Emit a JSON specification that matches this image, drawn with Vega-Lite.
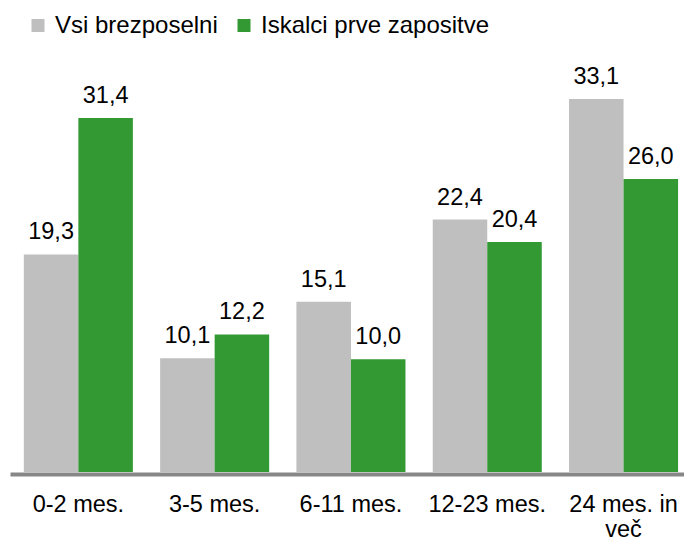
{
  "$schema": "https://vega.github.io/schema/vega-lite/v6.json",
  "width": 674,
  "height": 394.5,
  "autosize": {"type": "none"},
  "padding": {"left": 10, "top": 77.5, "right": 0, "bottom": 65},
  "config": {
    "view": {"stroke": null},
    "font": "Liberation Sans",
    "locale": {"number": {"decimal": ",", "thousands": ".", "grouping": [3], "currency": ["", " €"]}}
  },
  "data": {
    "values": [
      {"cat": "0-2 mes.", "series": "Vsi brezposelni", "value": 19.3},
      {"cat": "0-2 mes.", "series": "Iskalci prve zapositve", "value": 31.4},
      {"cat": "3-5 mes.", "series": "Vsi brezposelni", "value": 10.1},
      {"cat": "3-5 mes.", "series": "Iskalci prve zapositve", "value": 12.2},
      {"cat": "6-11 mes.", "series": "Vsi brezposelni", "value": 15.1},
      {"cat": "6-11 mes.", "series": "Iskalci prve zapositve", "value": 10.0},
      {"cat": "12-23 mes.", "series": "Vsi brezposelni", "value": 22.4},
      {"cat": "12-23 mes.", "series": "Iskalci prve zapositve", "value": 20.4},
      {"cat": "24 mes. in več", "series": "Vsi brezposelni", "value": 33.1},
      {"cat": "24 mes. in več", "series": "Iskalci prve zapositve", "value": 26.0}
    ]
  },
  "encoding": {
    "x": {
      "field": "cat", "type": "nominal", "sort": null,
      "scale": {"paddingInner": 0.2, "paddingOuter": 0.0725, "align": 0.7},
      "axis": {
        "title": null, "labelAngle": 0, "ticks": false,
        "labelFontSize": 23.5, "labelColor": "#000000", "labelPadding": 18,
        "labelLineHeight": 25, "labelLimit": 200,
        "labelExpr": "datum.value == '24 mes. in več' ? ['24 mes. in', 'več'] : datum.value",
        "domainColor": "#878787", "domainWidth": 4, "offset": 2
      }
    },
    "xOffset": {"field": "series", "type": "nominal", "sort": ["Vsi brezposelni", "Iskalci prve zapositve"], "scale": {"paddingInner": 0}},
    "y": {"field": "value", "type": "quantitative", "scale": {"domain": [0, 35], "nice": false}, "axis": null}
  },
  "layer": [
    {
      "mark": {"type": "bar"},
      "encoding": {
        "color": {
          "field": "series", "type": "nominal",
          "sort": ["Vsi brezposelni", "Iskalci prve zapositve"],
          "scale": {"domain": ["Vsi brezposelni", "Iskalci prve zapositve"], "range": ["#bfbfbf", "#339933"]},
          "legend": {
            "title": null, "orient": "none", "legendX": 16, "legendY": -64,
            "direction": "horizontal", "symbolType": "square", "symbolSize": 169,
            "symbolStrokeWidth": 0, "labelFontSize": 24, "labelColor": "#000000",
            "labelOffset": 5, "columnPadding": 14, "labelLimit": 300
          }
        }
      }
    },
    {
      "mark": {"type": "text", "fontSize": 23.5, "baseline": "alphabetic", "dy": -15, "color": "#000000"},
      "encoding": {
        "text": {"field": "value", "type": "quantitative", "format": ".1f"}
      }
    }
  ]
}
